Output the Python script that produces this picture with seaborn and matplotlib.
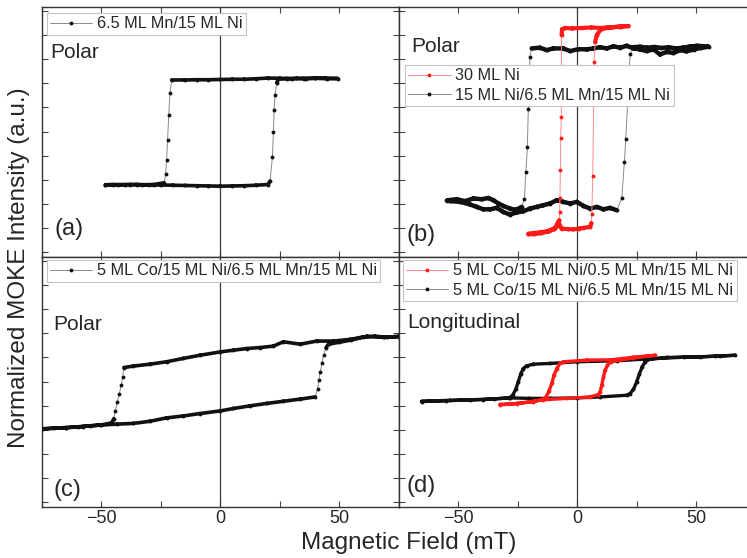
import numpy as np
import pandas as pd
import matplotlib
matplotlib.use("Agg")
import matplotlib.pyplot as plt
from matplotlib.ticker import MultipleLocator, NullFormatter
import seaborn as sns

# ---------------------------------------------------------------
# Hysteresis loops: field in mT, normalized MOKE signal (arb. units)
# Each loop is listed in measurement order.
# ---------------------------------------------------------------

# (a) polar, 6.5 ML Mn/15 ML Ni
a_field = [-48.3, -45, -40, -35, -30, -25, -20, -15, -10, -5, 0, 5, 10, 15, 20,
           20.9, 21.9, 22.3, 22.6, 23.0, 23.7, 24.4, 28, 32, 36, 40, 44, 49.4,
           45, 40, 35, 30, 25, 20, 15, 10, 5, 0, -5, -10, -15, -20.5,
           -21.2, -21.7, -22.2, -22.6, -23.0, -23.7, -28, -33, -38, -43, -48.3]
a_signal = [2.79, 2.80, 2.79, 2.80, 2.78, 2.78, 2.77, 2.76, 2.75, 2.74, 2.73, 2.74, 2.75, 2.77, 2.80,
            2.94, 3.95, 4.96, 5.89, 6.51, 7.02, 7.18, 7.20, 7.21, 7.20, 7.21, 7.22, 7.20,
            7.19, 7.21, 7.20, 7.19, 7.21, 7.22, 7.19, 7.17, 7.17, 7.16, 7.15, 7.15, 7.14, 7.14,
            6.58, 5.68, 4.64, 3.81, 3.23, 2.87, 2.80, 2.79, 2.80, 2.79, 2.78]

# (b) polar, 30 ML Ni
b_ni_field = [-20.5, -18, -15.6, -13, -11.4, -9.3, -7.9, -6.5, -4, -1.5, 1, 2.7, 5.5, 6.0,
              6.2, 6.6, 7.2, 7.6, 8.3, 9.7, 12, 15, 18, 21.6, 18, 14, 10, 6, 2, -2, -5,
              -6.3, -6.5, -6.6, -6.9, -7.0, -7.2, -7.3, -7.5, -8.0, -9.5, -12, -15, -18, -20.5]
b_ni_signal = [0.76, 0.79, 0.81, 0.85, 0.90, 1.00, 1.25, 0.97, 0.95, 0.94, 0.97, 1.00, 1.04, 1.20,
               1.57, 3.14, 7.90, 8.72, 9.00, 9.21, 9.30, 9.33, 9.36, 9.38, 9.35, 9.33, 9.30, 9.32,
               9.30, 9.28, 9.30, 9.25, 9.00, 5.61, 4.75, 3.42, 2.26, 1.66, 1.32, 1.10, 0.95, 0.85,
               0.78, 0.74, 0.74]

# (b) polar, 15 ML Ni/6.5 ML Mn/15 ML Ni
b_tri_field = [-53.5, -49.2, -45.0, -42.2, -39.4, -36.6, -33.8, -31.0, -28.2, -25.4, -22.6, -19.8,
               -17.0, -14.2, -11.4, -8.5, -5.8, -2.9, -0.1, 2.7, 5.5, 8.3, 11.1, 13.9, 16.7, 18.8,
               19.9, 20.5, 22.3, 23.5, 26.5, 29.5, 32.5, 35.5, 38.5, 41.5, 44.5, 47.5, 50.5, 53.0,
               55.3, 52.0, 49.0, 46.0, 43.4, 40.5, 37.8, 34.9, 32.1, 29.3, 26.5, 23.7, 20.9, 18.1,
               15.3, 12.5, 9.7, 6.9, 4.1, 0.6, -2.9, -5.8, -10.0, -12.8, -15.6, -19.1, -19.8, -20.5,
               -20.9, -21.5, -22.2, -23.3, -25.6, -28.2, -31.0, -33.1, -35.2, -37.3, -40.1, -43.6,
               -47.1, -50.6, -54.2, -54.8]
b_tri_signal = [2.11, 2.08, 1.97, 1.87, 1.77, 1.77, 1.83, 1.66, 1.55, 1.64, 1.69, 1.80,
                1.87, 1.94, 2.01, 2.15, 2.08, 2.01, 2.08, 1.91, 1.80, 1.87, 1.77, 1.83, 1.73, 2.22,
                3.74, 4.71, 8.20, 8.50, 8.52, 8.48, 8.51, 8.47, 8.50, 8.45, 8.48, 8.53, 8.56, 8.54,
                8.52, 8.47, 8.40, 8.33, 8.38, 8.26, 8.31, 8.20, 8.41, 8.34, 8.41, 8.45, 8.56, 8.48,
                8.54, 8.45, 8.50, 8.45, 8.41, 8.42, 8.34, 8.45, 8.45, 8.38, 8.48, 8.45, 8.10, 5.92,
                4.34, 3.32, 2.18, 1.87, 1.75, 1.80, 1.91, 2.01, 2.15, 2.24, 2.19, 2.22,
                2.11, 2.19, 2.15, 2.13]

# (c) polar, 5 ML Co/15 ML Ni/6.5 ML Mn/15 ML Ni
c_field = [-75, -64.7, -57.7, -50.7, -43.6, -36.6, -29.6, -22.6, -15.6, -8.6, 0, 5.5, 12.5, 19.5,
           26.5, 33.6, 39.9, 40.9, 41.4, 42.0, 42.7, 43.4, 44.4, 45.5, 50, 55, 60, 65, 70, 75,
           75, 68.7, 61.7, 54.6, 47.6, 40.6, 33.6, 26.5, 22.3, 16.7, 11.1, 5.5, 0, -8.6, -15.6,
           -22.6, -29.6, -36.6, -40.6, -41.1, -41.7, -42.5, -43.4, -44.1, -44.8, -45.7,
           -50, -55, -60, -65, -70, -75]
c_signal = [3.04, 3.08, 3.13, 3.19, 3.23, 3.26, 3.35, 3.49, 3.57, 3.67, 3.78, 3.88, 3.99, 4.09,
            4.18, 4.27, 4.36, 4.71, 5.06, 5.40, 5.75, 6.09, 6.40, 6.55, 6.63, 6.72, 6.84, 6.88, 6.84, 6.88,
            6.86, 6.83, 6.88, 6.75, 6.68, 6.68, 6.55, 6.65, 6.47, 6.41, 6.37, 6.30, 6.23, 6.09, 5.96,
            5.82, 5.72, 5.64, 5.58, 5.19, 4.85, 4.47, 4.13, 3.78, 3.46, 3.28,
            3.20, 3.16, 3.12, 3.09, 3.06, 3.03]

# (d) longitudinal, 5 ML Co/15 ML Ni/0.5 ML Mn/15 ML Ni
d_thin_field = [-32.4, -25.4, -18.4, -14.2, -4.3, 5.5, 9.0, 9.7, 10.4, 11.1, 11.8, 12.8, 14.2,
                23.7, 32.8, 23.7, 14.2, 4.1, -5.8, -7.2, -8.5, -9.7, -10.6, -11.8, -13.0, -14.2,
                -18.4, -25.4, -32.4]
d_thin_signal = [4.05, 4.09, 4.18, 4.24, 4.30, 4.36, 4.46, 4.57, 4.85, 5.19, 5.47, 5.68, 5.82,
                 5.98, 6.09, 6.01, 5.90, 5.89, 5.82, 5.75, 5.54, 5.26, 4.92, 4.61, 4.36, 4.27,
                 4.16, 4.08, 4.03]

# (d) longitudinal, 5 ML Co/15 ML Ni/6.5 ML Mn/15 ML Ni
d_thick_field = [-65.4, -53.5, -39.4, -28.2, -20, -11.4, 0, 9.7, 20.9, 22.3, 23.7, 25.1, 26.2, 27.4,
                 28.6, 30.0, 37.8, 51.8, 60, 66.5, 58, 45, 30, 16.7, 0, -11.4, -18.4, -21.2,
                 -22.6, -23.7, -24.7, -25.8, -27.1, -28.5, -35, -45, -55, -65.4]
d_thick_signal = [4.18, 4.22, 4.25, 4.32, 4.30, 4.30, 4.32, 4.36, 4.43, 4.50, 4.67, 4.99, 5.31, 5.61,
                  5.82, 5.92, 6.00, 6.02, 6.06, 6.09, 6.05, 6.01, 5.94, 5.86, 5.82, 5.75, 5.72, 5.65,
                  5.54, 5.31, 4.99, 4.67, 4.43, 4.32, 4.28, 4.24, 4.20, 4.17]

x_ticks_major = [-50, 0, 50]

# ---------------------------------------------------------------
sns.set_style("white")
plt.rcParams["font.family"] = ["Liberation Sans", "DejaVu Sans"]

W, H = 747, 558
fig = plt.figure(figsize=(W / 100, H / 100), dpi=100)


def axes_at(x0, y0, w, h):
    """Axes from a pixel box measured from the top-left corner."""
    return fig.add_axes([x0 / W, 1 - (y0 + h) / H, w / W, h / H])


COL_W, ROW_H = 356.7, 250
LEFT, TOP = 42, 7
ax_a = axes_at(LEFT, TOP, COL_W, ROW_H)
ax_b = axes_at(LEFT + COL_W, TOP, COL_W, ROW_H)
ax_c = axes_at(LEFT, TOP + ROW_H, COL_W, ROW_H)
ax_d = axes_at(LEFT + COL_W, TOP + ROW_H, COL_W, ROW_H)

BLACK, GREY_LINE = "#111111", "#8a8a8a"
RED, RED_LINE = "#ff1a1a", "#ff8c8c"


def draw_loop(ax, field, signal, color, line_color, label, band=2.6, dense=False):
    """Thin connecting line with dots, plus a solid band where the sampling is dense."""
    df = pd.DataFrame({"field": field, "signal": signal})
    sns.lineplot(data=df, x="field", y="signal", sort=False, estimator=None, ax=ax,
                 color=line_color, linewidth=0.7, marker="o", markersize=2.8,
                 markerfacecolor=color, markeredgecolor=color, markeredgewidth=0,
                 label=label, zorder=3)
    f = np.asarray(field, float)
    s = np.asarray(signal, float)
    steps = np.abs(np.diff(s))
    keep = np.ones_like(steps, bool) if dense else steps < 0.3
    xs, ys = [], []
    for i in np.flatnonzero(keep):
        xs += [f[i], f[i + 1], np.nan]
        ys += [s[i], s[i + 1], np.nan]
    ax.plot(xs, ys, color=color, lw=band, solid_capstyle="round",
            solid_joinstyle="round", zorder=3)


draw_loop(ax_a, a_field, a_signal, BLACK, GREY_LINE, "6.5 ML Mn/15 ML Ni")
draw_loop(ax_b, b_tri_field, b_tri_signal, BLACK, GREY_LINE,
          "15 ML Ni/6.5 ML Mn/15 ML Ni", band=3.2)
draw_loop(ax_b, b_ni_field, b_ni_signal, RED, RED_LINE, "30 ML Ni", band=3.0)
draw_loop(ax_c, c_field, c_signal, BLACK, GREY_LINE,
          "5 ML Co/15 ML Ni/6.5 ML Mn/15 ML Ni")
draw_loop(ax_d, d_thick_field, d_thick_signal, BLACK, GREY_LINE,
          "5 ML Co/15 ML Ni/6.5 ML Mn/15 ML Ni", band=2.4, dense=True)
draw_loop(ax_d, d_thin_field, d_thin_signal, RED, RED_LINE,
          "5 ML Co/15 ML Ni/0.5 ML Mn/15 ML Ni", band=2.4, dense=True)

legend_spots = {ax_a: (0.013, 0.976), ax_b: (0.018, 0.768),
                ax_c: (0.013, 0.988), ax_d: (0.012, 0.988)}
notes = {ax_a: ("Polar", 0.022, 0.817, "(a)", 0.036, 0.112),
         ax_b: ("Polar", 0.036, 0.841, "(b)", 0.023, 0.088),
         ax_c: ("Polar", 0.031, 0.732, "(c)", 0.031, 0.068),
         ax_d: ("Longitudinal", 0.023, 0.736, "(d)", 0.023, 0.084)}

for ax in (ax_a, ax_b, ax_c, ax_d):
    ax.set_xlim(-75, 75)
    ax.set_ylim(-0.21, 10.17)
    ax.axvline(0, color="#3a3a3a", lw=0.9, zorder=1)
    ax.xaxis.set_major_locator(MultipleLocator(50))
    ax.xaxis.set_minor_locator(MultipleLocator(25))
    ax.yaxis.set_major_locator(MultipleLocator(1))
    ax.yaxis.set_major_formatter(NullFormatter())
    ax.tick_params(which="both", direction="in", length=4, width=0.8, color="#444444",
                   top=True, right=True, bottom=True, left=True, labelsize=13, pad=2.5)
    ax.set_xlabel("")
    ax.set_ylabel("")
    for sp in ax.spines.values():
        sp.set_color("#333333")
        sp.set_linewidth(1.0)

    handles, labels = ax.get_legend_handles_labels()
    if ax in (ax_b,):
        handles, labels = handles[::-1], labels[::-1]
    if ax in (ax_d,):
        handles, labels = handles[::-1], labels[::-1]
    leg = ax.legend(handles, labels, loc="upper left", bbox_to_anchor=legend_spots[ax],
                    borderaxespad=0, fontsize=11.7, numpoints=1, handlelength=2.6,
                    handletextpad=0.3, borderpad=0.2, labelspacing=0.3,
                    frameon=True, fancybox=False, framealpha=1)
    leg.get_frame().set_edgecolor("#c4c4c4")
    leg.get_frame().set_linewidth(0.8)

    mode, mx, my, tag, tx, ty = notes[ax]
    ax.text(mx, my, mode, transform=ax.transAxes, ha="left", va="center", fontsize=15)
    ax.text(tx, ty, tag, transform=ax.transAxes, ha="left", va="center", fontsize=17)

for ax in (ax_a, ax_b):
    ax.tick_params(labelbottom=False)
for ax in (ax_c, ax_d):
    ax.set_xticks(x_ticks_major)

fig.text(409 / W, 1 - 548.7 / H, "Magnetic Field (mT)", ha="center", va="baseline",
         fontsize=17.5)
fig.text(18.75 / W, 1 - 267.5 / H, "Normalized MOKE Intensity (a.u.)", rotation=90,
         ha="center", va="center", fontsize=17.5)

fig.savefig("out.png", dpi=100)
